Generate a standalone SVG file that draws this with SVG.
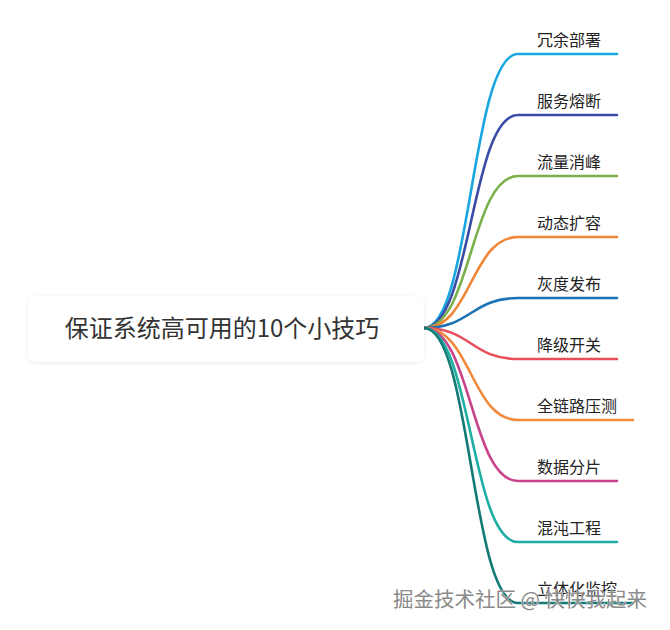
<svg xmlns="http://www.w3.org/2000/svg" width="670" height="630" viewBox="0 0 670 630">
<defs>
<filter id="sh" x="-10%" y="-30%" width="120%" height="160%"><feDropShadow dx="0" dy="1" stdDeviation="2" flood-color="#000" flood-opacity="0.08"/></filter>
<style>
.b{fill:none;stroke-width:2.6;stroke-linecap:round}
.t{font-family:"Noto Sans CJK SC","Noto Sans",sans-serif;font-size:16px;fill:#222}
.r{font-family:"Noto Sans CJK SC","Noto Sans",sans-serif;font-size:24px;fill:#333}
.w{font-family:"Noto Sans CJK SC",sans-serif;font-size:20.5px;fill:#8a8a8a;stroke:#fff;stroke-width:0.6;paint-order:stroke}
</style>
</defs>
<rect width="670" height="630" fill="#fff"/>
<g id="connectors">
<path class="b" stroke="#18a7df" d="M424,328 C471,328 471,54 518,54 L617,54"/>
<path class="b" stroke="#3a4ca6" d="M424,328 C471,328 471,115 518,115 L617,115"/>
<path class="b" stroke="#79b04c" d="M424,328 C471,328 471,176 518,176 L617,176"/>
<path class="b" stroke="#f08536" d="M424,328 C471,328 471,237 518,237 L617,237"/>
<path class="b" stroke="#1b72b4" d="M424,328 C471,328 471,298 518,298 L617,298"/>
<path class="b" stroke="#e94f59" d="M424,328 C471,328 471,359 518,359 L617,359"/>
<path class="b" stroke="#f28a3c" d="M424,328 C471,328 471,420 518,420 L633,420"/>
<path class="b" stroke="#c9448c" d="M424,328 C471,328 471,481 518,481 L617,481"/>
<path class="b" stroke="#1eaea3" d="M424,328 C471,328 471,542 518,542 L617,542"/>
<path class="b" stroke="#137a76" d="M424,328 C471,328 471,603 518,603 L633,603"/>
</g>
<g id="root">
<rect x="28" y="296" width="396" height="66" rx="8" fill="#fff" filter="url(#sh)"/>
<text class="r" x="222" y="337" text-anchor="middle">保证系统高可用的10个小技巧</text>
</g>
<g id="n1"><text class="t" x="537" y="46">冗余部署</text></g>
<g id="n2"><text class="t" x="537" y="107">服务熔断</text></g>
<g id="n3"><text class="t" x="537" y="168">流量消峰</text></g>
<g id="n4"><text class="t" x="537" y="229">动态扩容</text></g>
<g id="n5"><text class="t" x="537" y="290">灰度发布</text></g>
<g id="n6"><text class="t" x="537" y="351">降级开关</text></g>
<g id="n7"><text class="t" x="537" y="412">全链路压测</text></g>
<g id="n8"><text class="t" x="537" y="473">数据分片</text></g>
<g id="n9"><text class="t" x="537" y="534">混沌工程</text></g>
<g id="n10"><text class="t" x="537" y="595">立体化监控</text></g>
<text class="w" x="393" y="607">掘金技术社区 @ 快快我起来</text>
</svg>
